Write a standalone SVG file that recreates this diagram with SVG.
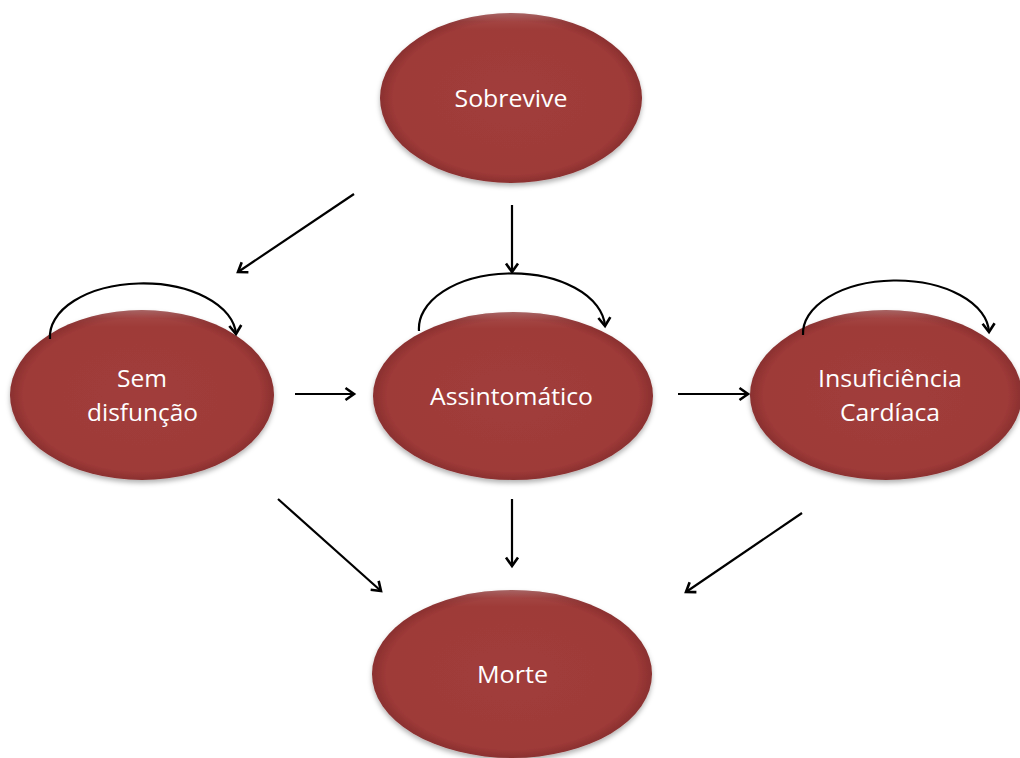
<svg xmlns="http://www.w3.org/2000/svg" width="1020" height="758" viewBox="0 0 1020 758">
<style>
.node ellipse.body{fill:url(#fillG);filter:url(#shadow)}
.node ellipse.rim{fill:url(#rimG)}
.node text{font-family:"Open Sans","Liberation Sans",sans-serif;font-size:24px;fill:#ffffff;text-anchor:middle}
.conn path, .conn line{stroke:#000;stroke-width:2.2;fill:none;marker-end:url(#arr)}
</style>
<defs>
<radialGradient id="fillG" cx="50%" cy="50%" r="50%">
<stop offset="0%" stop-color="#a13d3b"/>
<stop offset="90%" stop-color="#9e3a38"/>
<stop offset="100%" stop-color="#8a302f"/>
</radialGradient>
<linearGradient id="rimG" x1="0" y1="0" x2="0" y2="1">
<stop offset="0%" stop-color="#ffffff" stop-opacity="0.25"/>
<stop offset="5%" stop-color="#ffffff" stop-opacity="0.05"/>
<stop offset="10%" stop-color="#ffffff" stop-opacity="0"/>
</linearGradient>
<filter id="shadow" x="-10%" y="-10%" width="120%" height="130%">
<feDropShadow dx="0" dy="3" stdDeviation="2.5" flood-color="#000" flood-opacity="0.3"/>
</filter>
<marker id="arr" markerUnits="userSpaceOnUse" markerWidth="16" markerHeight="16" refX="12" refY="8" orient="auto" viewBox="0 0 16 16">
<path d="M3.5,2 L12,8 L3.5,14" fill="none" stroke="#000" stroke-width="2.6" stroke-linejoin="miter"/>
</marker>
</defs>
<rect width="1020" height="758" fill="#ffffff"/>

<g id="sobrevive" class="node">
<ellipse class="body" cx="511" cy="98" rx="131" ry="85"/>
<ellipse class="rim" cx="511" cy="98" rx="131" ry="85"/>
<text x="511" y="107" textLength="113" lengthAdjust="spacingAndGlyphs">Sobrevive</text>
</g>

<g id="sem-disfuncao" class="node">
<ellipse class="body" cx="142" cy="395" rx="132" ry="85"/>
<ellipse class="rim" cx="142" cy="395" rx="132" ry="85"/>
<text x="142" y="387" textLength="50" lengthAdjust="spacingAndGlyphs">Sem</text>
<text x="142.5" y="421" textLength="111" lengthAdjust="spacingAndGlyphs">disfunção</text>
</g>

<g id="assintomatico" class="node">
<ellipse class="body" cx="513" cy="396" rx="140" ry="84"/>
<ellipse class="rim" cx="513" cy="396" rx="140" ry="84"/>
<text x="511.5" y="405" textLength="163" lengthAdjust="spacingAndGlyphs">Assintomático</text>
</g>

<g id="insuficiencia" class="node">
<ellipse class="body" cx="886" cy="395" rx="136" ry="85"/>
<ellipse class="rim" cx="886" cy="395" rx="136" ry="85"/>
<text x="890" y="387" textLength="144" lengthAdjust="spacingAndGlyphs">Insuficiência</text>
<text x="890" y="421" textLength="100" lengthAdjust="spacingAndGlyphs">Cardíaca</text>
</g>

<g id="morte" class="node">
<ellipse class="body" cx="512" cy="674" rx="140" ry="84"/>
<ellipse class="rim" cx="512" cy="674" rx="140" ry="84"/>
<text x="512.5" y="683" textLength="71" lengthAdjust="spacingAndGlyphs">Morte</text>
</g>

<g id="connectors" class="conn">
<line x1="354" y1="194" x2="238" y2="272"/>
<line x1="512" y1="205" x2="512" y2="272"/>
<line x1="295" y1="394" x2="354" y2="394"/>
<line x1="678" y1="394" x2="748" y2="394"/>
<line x1="278" y1="499" x2="381" y2="591"/>
<line x1="512" y1="499" x2="512" y2="566"/>
<line x1="802" y1="513" x2="686" y2="592"/>
<path d="M50,339 A93,53 0 0 1 236,334"/>
<path d="M419,331 A93,55 0 0 1 605,326"/>
<path d="M803,335 A93,53 0 0 1 989,332"/>
</g>
</svg>
